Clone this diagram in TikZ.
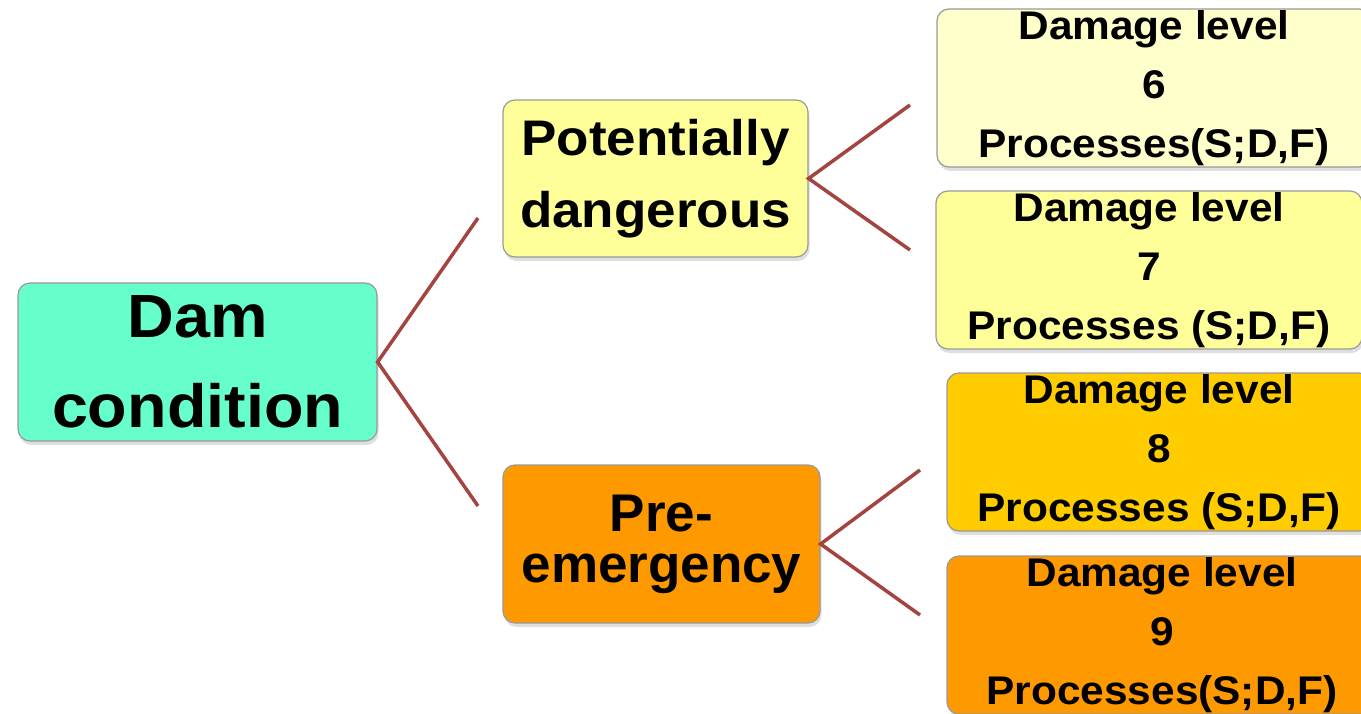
\documentclass[tikz,border=0pt]{standalone}
\usepackage{fontspec}
\setmainfont{Liberation Sans}
\newfontfamily\widesans[FakeStretch=1.06]{Liberation Sans}
\usetikzlibrary{shadows}
\definecolor{damgreen}{HTML}{66FFCC}
\definecolor{paleyellow}{HTML}{FFFFCC}
\definecolor{lightyellow}{HTML}{FFFF99}
\definecolor{goldyellow}{HTML}{FFCC00}
\definecolor{deeporange}{HTML}{FF9900}
\definecolor{branchred}{HTML}{A3443F}
\tikzset{
  box/.style={draw=gray!80, line width=1.2pt, rounded corners=12pt, inner sep=0pt,
    align=center, drop shadow={shadow xshift=1.5pt, shadow yshift=-4pt, opacity=0.25}},
  levelbox/.style={box, minimum height=158pt,
    font=\widesans\bfseries\fontsize{40}{59}\selectfont},
  branch/.style={draw=branchred, line width=3.5pt}
}
\begin{document}
\begin{tikzpicture}[x=1pt,y=-1pt]
\clip (0,0) rectangle (1361,714);
\node[box, fill=damgreen, minimum width=359pt, minimum height=158pt,
  font=\widesans\bfseries\fontsize{61}{90}\selectfont] (dam) at (197.5,362) {Dam\\condition};
\node[box, fill=lightyellow, minimum width=305pt, minimum height=157pt,
  font=\widesans\bfseries\fontsize{50}{72}\selectfont] (danger) at (655.5,178.5) {Potentially\\dangerous};
\node[box, fill=deeporange, minimum width=317pt, minimum height=158pt,
  font=\bfseries\fontsize{53}{51}\selectfont] (preemg) at (661.5,544) {Pre-\\emergency};
\node[levelbox, fill=paleyellow, minimum width=434pt] (level6) at (1154,88) {Damage level\\6\\Processes(S;D,F)};
\node[levelbox, fill=lightyellow, minimum width=426pt] (level7) at (1149,270) {Damage level\\7\\Processes (S;D,F)};
\node[levelbox, fill=goldyellow, minimum width=424pt] (level8) at (1159,452) {Damage level\\8\\Processes (S;D,F)};
\node[levelbox, fill=deeporange, minimum width=430pt] (level9) at (1162,635) {Damage level\\9\\Processes(S;D,F)};
\coordinate (toDanger) at (478,218);
\coordinate (toPreemg) at (478,506);
\coordinate (toLevel6) at (910,105);
\coordinate (toLevel7) at (910,250);
\coordinate (toLevel8) at (920,470);
\coordinate (toLevel9) at (920,615);
\draw[branch] (toDanger) -- (dam.east) -- (toPreemg);
\draw[branch] (toLevel6) -- (danger.east) -- (toLevel7);
\draw[branch] (toLevel8) -- (preemg.east) -- (toLevel9);
\end{tikzpicture}
\end{document}
